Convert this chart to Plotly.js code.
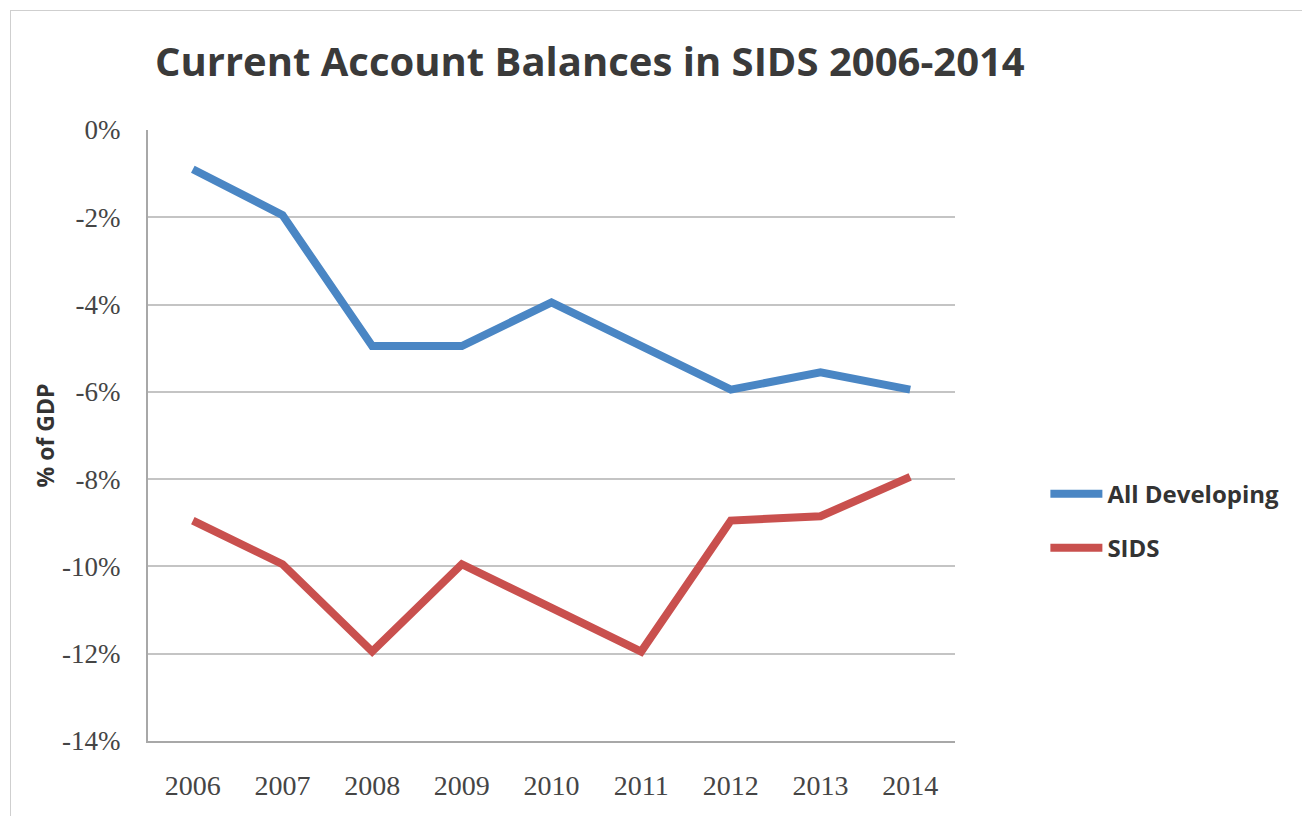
<!DOCTYPE html>
<html><head><meta charset="utf-8">
<script src="https://cdn.plot.ly/plotly-3.0.1.min.js"></script>
<style>
html,body{margin:0;padding:0;background:#fff;}
#frame{position:absolute;left:10px;top:10px;width:1292px;height:806px;border-left:1px solid #cfcfcf;border-top:1px solid #cfcfcf;}
#chart{position:absolute;left:0;top:0;width:1302px;height:816px;}
</style></head>
<body>
<div id="chart"></div>
<div id="frame"></div>
<script>
const years = ['2006','2007','2008','2009','2010','2011','2012','2013','2014'];
const allDeveloping = [-0.9, -1.95, -4.95, -4.95, -3.95, -4.95, -5.95, -5.55, -5.95];
const sids = [-8.95, -9.95, -11.95, -9.95, -10.95, -11.95, -8.95, -8.85, -7.95];
const yTicks = [0, -2, -4, -6, -8, -10, -12, -14];

const serif = 'Liberation Serif, DejaVu Serif, serif';
const sans = 'Open Sans, Liberation Sans, sans-serif';

const traces = [
  {x: years, y: allDeveloping, name: '<b>All Developing</b>', type: 'scatter', mode: 'lines',
   line: {color: '#4a86c4', width: 8}, legendgroup: 'a'},
  {x: years, y: sids, name: '<b>SIDS</b>', type: 'scatter', mode: 'lines',
   line: {color: '#c9504e', width: 8}, legendgroup: 'b'}
];

const layout = {
  width: 1302, height: 816,
  margin: {l: 148, r: 347, t: 130, b: 75},
  paper_bgcolor: '#ffffff', plot_bgcolor: '#ffffff',
  title: {text: '<b>Current Account Balances in SIDS 2006-2014</b>',
          font: {family: sans, size: 40, color: '#3a3a3a'},
          x: 0.119, xanchor: 'left', y: 0.924, yanchor: 'middle'},
  xaxis: {type: 'category', range: [-0.5, 8.5], showgrid: false,
          showline: true, linecolor: '#a8a8a8', linewidth: 2,
          ticks: '', ticklabelstandoff: 18,
          tickfont: {family: serif, size: 28, color: '#454545'}},
  yaxis: {range: [-14, 0], tickvals: yTicks, ticktext: yTicks.map(v => v + '%'),
          showgrid: true, gridcolor: '#c4c4c4', gridwidth: 2,
          showline: true, linecolor: '#a8a8a8', linewidth: 2,
          zeroline: false, ticks: '', ticklabelstandoff: 20,
          tickfont: {family: serif, size: 27, color: '#454545'},
          title: {text: '<b>% of GDP</b>', font: {family: sans, size: 23, color: '#333'}, standoff: 1}},
  showlegend: true,
  legend: {x: 1.112, xanchor: 'left', y: 0.36, yanchor: 'middle',
           font: {family: sans, size: 24, color: '#333'},
           traceorder: 'grouped', tracegroupgap: 20, itemwidth: 52,
           bgcolor: 'rgba(0,0,0,0)'}
};

Plotly.newPlot('chart', traces, layout, {displayModeBar: false, staticPlot: true});
</script>
</body></html>
